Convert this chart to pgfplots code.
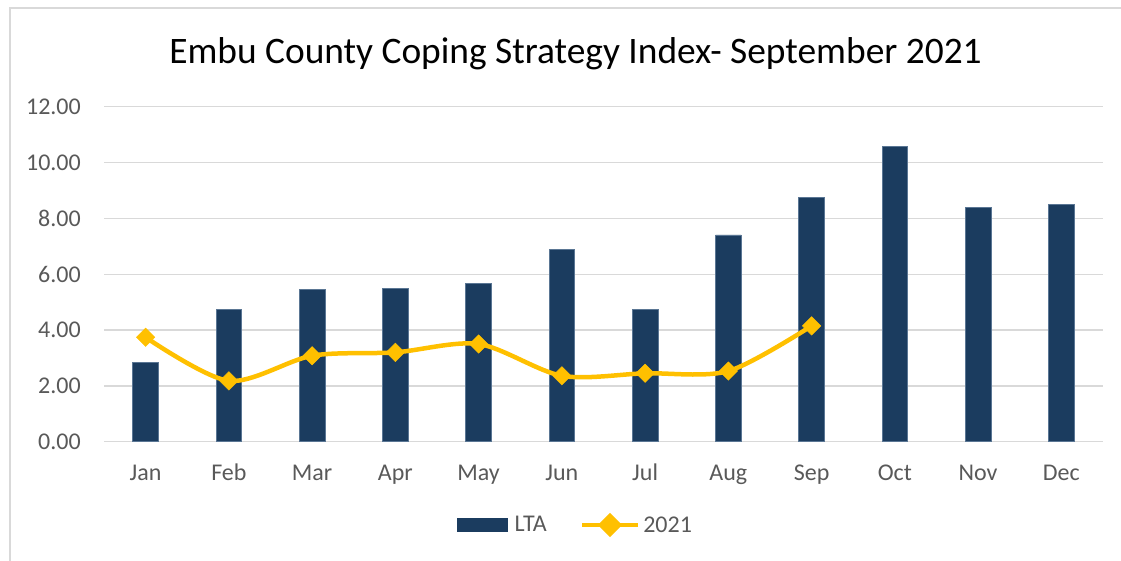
\documentclass[border=0pt]{standalone}
\usepackage{fontspec}
\setmainfont{Carlito}
\usepackage{pgfplots}
\pgfplotsset{compat=1.18}
\definecolor{navy}{HTML}{1B3C5F}
\definecolor{navyedge}{HTML}{5A7694}
\definecolor{gold}{HTML}{FFC000}
\definecolor{gridgray}{HTML}{D9D9D9}
\definecolor{txt}{HTML}{595959}
\begin{document}
\begin{tikzpicture}
\useasboundingbox (0,0) rectangle (1121bp,561bp);
\draw[gridgray, line width=1.5bp] (10bp,0) -- (10bp,553bp) -- (1121bp,553bp);
\node[font=\fontsize{37.4bp}{44bp}\selectfont, text=black] at (575.5bp,507bp) {Embu County Coping Strategy Index- September 2021};
\begin{axis}[
  at={(104bp,119.3bp)}, anchor=south west,
  scale only axis, width=999bp, height=335bp,
  xmin=-0.5, xmax=11.5, ymin=0, ymax=12,
  xtick={0,...,11},
  xticklabels={Jan,Feb,Mar,Apr,May,Jun,Jul,Aug,Sep,Oct,Nov,Dec},
  ytick={0,2,...,12},
  major tick length=0pt,
  axis line style={draw=none},
  ymajorgrids, xmajorgrids=false, grid style={draw=gridgray, line width=1.3bp},
  /pgf/number format/assume math mode=true,
  /pgf/number format/.cd, fixed, fixed zerofill, precision=2, /pgfplots/.cd,
  ticklabel style={font=\fontsize{24bp}{28bp}\selectfont, text=txt},
  yticklabel style={anchor=east, inner sep=0pt, xshift=-23bp},
  xticklabel style={anchor=base, inner sep=0pt, yshift=-39bp},
  legend style={at={(0.472,-0.2487)}, anchor=center, draw=none, fill=none,
    legend columns=2, font=\fontsize{24bp}{28bp}\selectfont, text=txt,
    /tikz/every even column/.append style={column sep=31bp},
    inner sep=0pt, cells={anchor=west}},
  clip=false,
]
\addplot[ybar, bar shift=0pt, bar width=25.7bp, fill=navy, draw=navyedge, line width=0.6bp,
  legend image code/.code={\fill[navy] (0bp,-6.5bp) rectangle (50bp,6.5bp); \path (55bp,0bp);}]
  coordinates {(0,2.83) (1,4.75) (2,5.46) (3,5.49) (4,5.67) (5,6.90) (6,4.75) (7,7.41) (8,8.76) (9,10.59) (10,8.39) (11,8.50)};
\addlegendentry{LTA}
\addplot[gold, line width=4.5bp, smooth, mark=square*, mark size=6.5bp,
  mark options={rotate=45, solid, fill=gold, draw=gold, line width=0.5bp},
  legend image code/.code={\draw[gold, line width=4.5bp] (0bp,0bp) -- (56bp,0bp);
    \fill[gold] (28bp,-9bp) -- (37bp,0bp) -- (28bp,9bp) -- (19bp,0bp) -- cycle; \path (57bp,0bp);}]
  coordinates {(0,3.74) (1,2.18) (2,3.08) (3,3.20) (4,3.50) (5,2.36) (6,2.45) (7,2.53) (8,4.15)};
\addlegendentry{2021}
\end{axis}
\end{tikzpicture}
\end{document}
